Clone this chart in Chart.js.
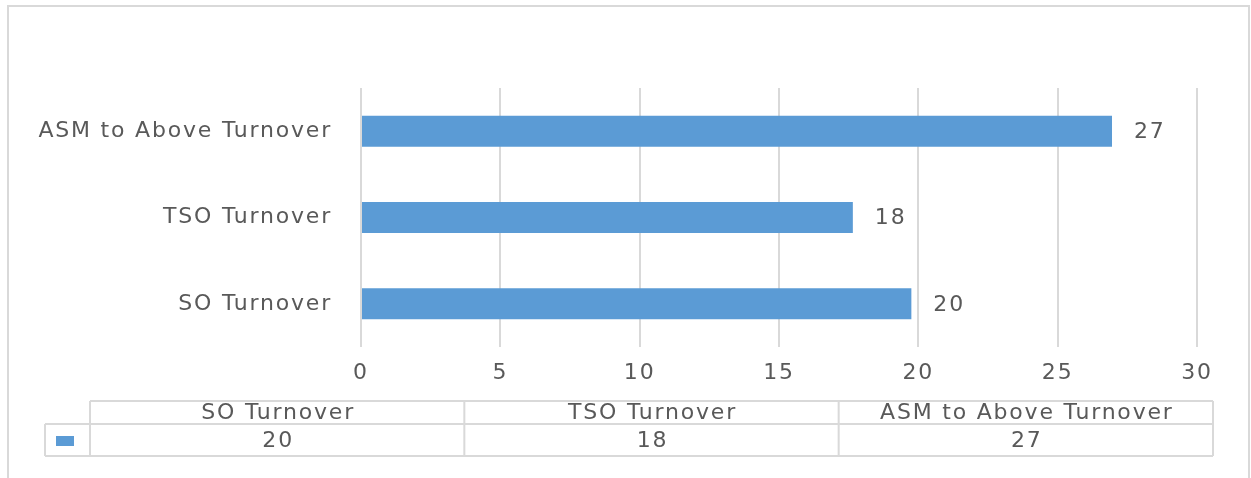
<!DOCTYPE html>
<html>
<head>
<meta charset="utf-8">
<script src="https://cdn.jsdelivr.net/npm/chart.js@4/dist/chart.umd.min.js"></script>
<style>
  html, body { margin: 0; padding: 0; background: #fff; }
  #wrap { width: 1251px; height: 478px; position: relative; }
</style>
</head>
<body>
<div id="wrap"><canvas id="turnoverChart" width="1251" height="478"></canvas></div>
<script>
// categorias y valores
const categorias = ['SO Turnover', 'TSO Turnover', 'ASM to Above Turnover'];
const valores = [19.75, 17.65, 26.95];
const ticksX = [0, 5, 10, 15, 20, 25, 30];

const colorBarra = '#5b9bd5';
const colorTexto = '#595959';
const colorLinea = '#d9d9d9';
const fuente = '"DejaVu Sans", sans-serif';
const tamFuente = 22;

// espaciado de letras para imitar el texto ensanchado del original
const espaciado = {
  id: 'espaciado',
  beforeDraw(chart) {
    chart.ctx.letterSpacing = '1.8px';
    // marco exterior
    const ctx = chart.ctx;
    ctx.save();
    ctx.strokeStyle = colorLinea;
    ctx.lineWidth = 2;
    ctx.strokeRect(8, 6, 1241, 520);
    ctx.restore();
  }
};

// etiquetas de valor al final de cada barra
const etiquetas = {
  id: 'etiquetas',
  afterDatasetsDraw(chart) {
    const ctx = chart.ctx;
    const meta = chart.getDatasetMeta(0);
    ctx.save();
    ctx.font = tamFuente + 'px ' + fuente;
    ctx.fillStyle = colorTexto;
    ctx.textAlign = 'left';
    ctx.textBaseline = 'middle';
    meta.data.forEach((bar, i) => {
      ctx.fillText(Math.round(valores[i]), bar.x + 22, bar.y + 1);
    });
    ctx.restore();
  }
};

// tabla de datos debajo del eje
const tabla = {
  id: 'tabla',
  afterDraw(chart) {
    const ctx = chart.ctx;
    const izq = 90, der = 1213;
    const yArriba = 401, yMedio = 424, yAbajo = 456;
    const ancho = (der - izq) / categorias.length;
    ctx.save();
    ctx.strokeStyle = colorLinea;
    ctx.lineWidth = 2;
    ctx.beginPath();
    ctx.moveTo(izq, yArriba); ctx.lineTo(der, yArriba);
    ctx.moveTo(45, yMedio); ctx.lineTo(der, yMedio);
    ctx.moveTo(45, yAbajo); ctx.lineTo(der, yAbajo);
    ctx.moveTo(45, yMedio); ctx.lineTo(45, yAbajo);
    for (let i = 0; i <= categorias.length; i++) {
      const x = izq + ancho * i;
      ctx.moveTo(x, yArriba); ctx.lineTo(x, yAbajo);
    }
    ctx.stroke();

    // cuadro de leyenda
    ctx.fillStyle = colorBarra;
    ctx.fillRect(56, 436, 18, 10);

    ctx.font = tamFuente + 'px ' + fuente;
    ctx.fillStyle = colorTexto;
    ctx.textAlign = 'center';
    ctx.textBaseline = 'middle';
    categorias.forEach((c, i) => {
      const cx = izq + ancho * (i + 0.5) + 1;
      ctx.fillText(c, cx, (yArriba + yMedio) / 2 + 1);
      ctx.fillText(Math.round(valores[i]), cx, (yMedio + yAbajo) / 2 + 1);
    });
    ctx.restore();
  }
};

const ctx = document.getElementById('turnoverChart').getContext('2d');

new Chart(ctx, {
  type: 'bar',
  data: {
    labels: categorias,
    datasets: [{
      data: valores,
      backgroundColor: colorBarra,
      borderWidth: 0,
      barPercentage: 0.36,
      categoryPercentage: 1
    }]
  },
  options: {
    indexAxis: 'y',
    responsive: false,
    animation: false,
    layout: {
      padding: { top: 88, right: 54, bottom: 0, left: 0 }
    },
    scales: {
      x: {
        min: 0,
        max: 30,
        afterBuildTicks(scale) {
          scale.ticks = ticksX.map(v => ({ value: v }));
        },
        afterFit(scale) {
          scale.height = 131;
        },
        grid: { color: colorLinea, lineWidth: 2, drawTicks: false },
        border: { display: false },
        ticks: {
          color: colorTexto,
          font: { family: fuente, size: tamFuente },
          padding: 13,
          maxRotation: 0
        }
      },
      y: {
        reverse: true,
        afterFit(scale) {
          scale.width = 361;
        },
        grid: { display: false, drawTicks: false },
        border: { display: false },
        ticks: {
          color: colorTexto,
          font: { family: fuente, size: tamFuente },
          padding: 29
        }
      }
    },
    plugins: {
      legend: { display: false },
      tooltip: { enabled: false }
    }
  },
  plugins: [espaciado, etiquetas, tabla]
});
</script>
</body>
</html>
